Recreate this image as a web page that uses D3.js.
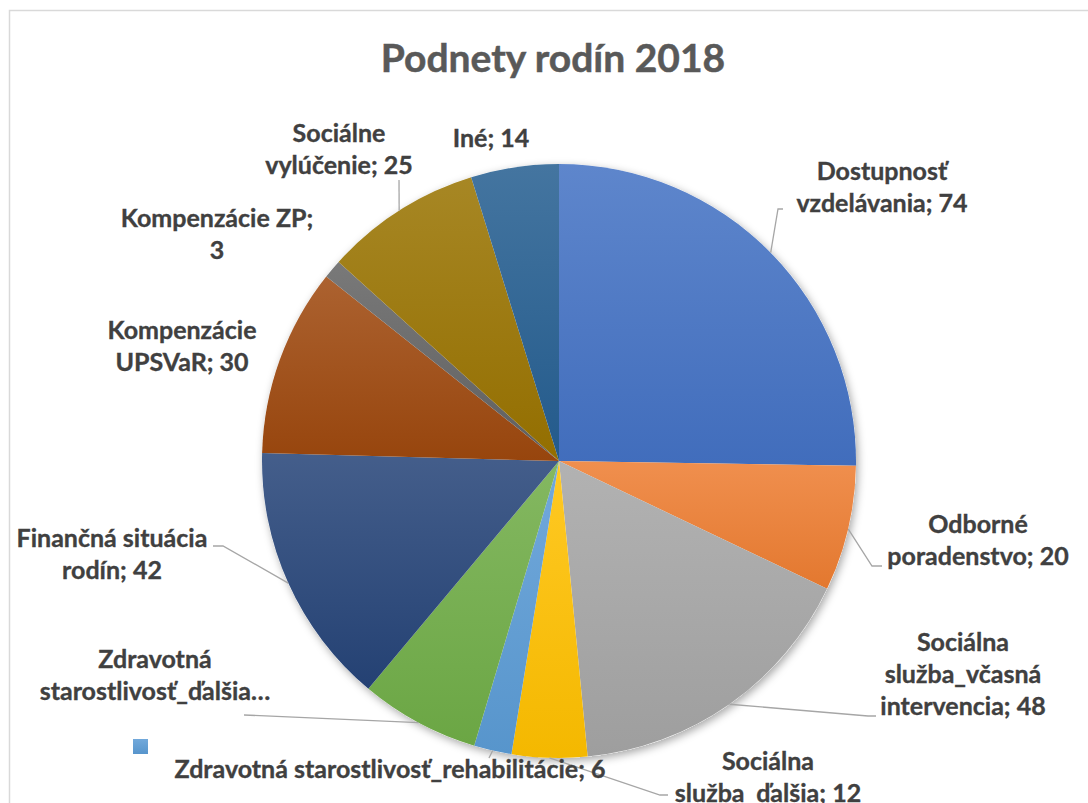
<!DOCTYPE html>
<html lang="sk">
<head>
<meta charset="utf-8">
<title>Podnety rodín 2018</title>
<script src="https://d3js.org/d3.v7.min.js"></script>
<style>
  body { margin: 0; background: #fff; }
  svg { display: block; }
  .title { font-family: 'Lato', sans-serif; font-weight: 700; fill: #595959; stroke: #595959; stroke-width: 0.5px; }
  .lbl { font-family: 'Lato', sans-serif; font-weight: 700; fill: #404040; stroke: #404040; stroke-width: 0.35px; }
</style>
</head>
<body>
<svg width="1088" height="803"></svg>
<script>

// data
var categories = [
  "Dostupnosť vzdelávania",
  "Odborné poradenstvo",
  "Sociálna služba_včasná intervencia",
  "Sociálna služba_ďalšia",
  "Zdravotná starostlivosť_rehabilitácie",
  "Zdravotná starostlivosť_ďalšia",
  "Finančná situácia rodín",
  "Kompenzácie UPSVaR",
  "Kompenzácie ZP",
  "Sociálne vylúčenie",
  "Iné"
];
var values = [74, 20, 48, 12, 6, 19, 42, 30, 3, 25, 14];

// label text as shown (line breaks as in the picture)
var labelLines = [
  ["Dostupnosť", "vzdelávania; 74"],
  ["Odborné", "poradenstvo; 20"],
  ["Sociálna", "služba_včasná", "intervencia; 48"],
  ["Sociálna", "služba_ďalšia; 12"],
  ["Zdravotná starostlivosť_rehabilitácie; 6"],
  ["Zdravotná", "starostlivosť_ďalšia…"],
  ["Finančná situácia", "rodín; 42"],
  ["Kompenzácie", "UPSVaR; 30"],
  ["Kompenzácie ZP;", "3"],
  ["Sociálne", "vylúčenie; 25"],
  ["Iné; 14"]
];

var colors = ["#4472C4", "#ED7D31", "#A5A5A5", "#FFC000", "#5B9BD5", "#70AD47",
              "#264478", "#9E480E", "#636363", "#997300", "#255E91"];

// label placement: text centre x, first baseline y, leader points (elbow, end)
var labelPos = [
  {x: 882, y: 180, leader: [[778, 209], [783, 209]]},
  {x: 978, y: 533, leader: [[872, 566], [882, 566]]},
  {x: 963, y: 651, leader: [[868, 716], [876, 716]]},
  {x: 768, y: 770, leader: [[660, 795], [668, 795]]},
  {x: 390, y: 778, leader: [[489, 758]]},
  {x: 155, y: 668, leader: [[244, 715]]},
  {x: 112, y: 547, leader: [[223, 546], [213, 546]]},
  {x: 182, y: 339, leader: null},
  {x: 217, y: 227, leader: null},
  {x: 339, y: 142, leader: [[399, 180]]},
  {x: 491, y: 147, leader: null}
];

var svg = d3.select("svg");
var width = +svg.attr("width"),
    height = +svg.attr("height");

var cx = 559, cy = 461, radius = 297;
var lineHeight = 32;

var defs = svg.append("defs");

var shadow = defs.append("filter")
    .attr("id", "pieShadow")
    .attr("x", "-10%").attr("y", "-10%")
    .attr("width", "120%").attr("height", "120%");
shadow.append("feDropShadow")
    .attr("dx", 2).attr("dy", 3)
    .attr("stdDeviation", 4)
    .attr("flood-color", "#000")
    .attr("flood-opacity", 0.35);

// one vertical gradient per slice, lighter at the top
colors.forEach(function(c, i) {
  var g = defs.append("linearGradient")
      .attr("id", "grad" + i)
      .attr("x1", 0).attr("y1", 0)
      .attr("x2", 0).attr("y2", 1);
  g.append("stop").attr("offset", "0%")
      .attr("stop-color", d3.interpolateRgb(c, "#ffffff")(0.14));
  g.append("stop").attr("offset", "100%")
      .attr("stop-color", d3.rgb(c).darker(0.12));
});

// chart area border
svg.append("rect")
    .attr("x", 9.5).attr("y", 10.5)
    .attr("width", width + 20).attr("height", height + 20)
    .attr("fill", "#fff")
    .attr("stroke", "#D9D9D9")
    .attr("stroke-width", 1.5);

svg.append("text")
    .attr("class", "title")
    .attr("x", 553)
    .attr("y", 72)
    .attr("text-anchor", "middle")
    .style("font-size", "39px")
    .text("Podnety rodín 2018");

var data = categories.map(function(c, i) { return {name: c, value: values[i], i: i}; });

var pie = d3.pie()
    .sort(null)
    .value(function(d) { return d.value; });

var arc = d3.arc()
    .innerRadius(0)
    .outerRadius(radius);

var arcs = pie(data);

var g = svg.append("g")
    .attr("transform", "translate(" + cx + "," + cy + ")");

g.append("circle")
    .attr("r", radius)
    .attr("fill", "#fff")
    .attr("filter", "url(#pieShadow)");

g.selectAll("path.slice")
    .data(arcs)
    .enter()
    .append("path")
    .attr("class", "slice")
    .attr("d", arc)
    .attr("fill", function(d) { return "url(#grad" + d.data.i + ")"; });

// leader lines, from the slice edge at mid angle to the label
var leaders = svg.append("g")
    .attr("fill", "none")
    .attr("stroke", "#A6A6A6")
    .attr("stroke-width", 1.3);

arcs.forEach(function(a, i) {
  var lp = labelPos[i];
  if (!lp.leader) return;
  var mid = (a.startAngle + a.endAngle) / 2;
  var start = [cx + radius * Math.sin(mid), cy - radius * Math.cos(mid)];
  leaders.append("path")
      .attr("d", d3.line()([start].concat(lp.leader)));
});

// labels
var labels = svg.selectAll("text.lbl")
    .data(arcs)
    .enter()
    .append("text")
    .attr("class", "lbl")
    .attr("text-anchor", "middle")
    .style("font-size", "25px");

labels.each(function(d, i) {
  var t = d3.select(this);
  labelLines[i].forEach(function(line, k) {
    t.append("tspan")
        .attr("x", labelPos[i].x)
        .attr("y", labelPos[i].y + k * lineHeight)
        .text(line);
  });
});

// stray legend key left by the original chart
svg.append("rect")
    .attr("x", 133).attr("y", 739)
    .attr("width", 15).attr("height", 15)
    .attr("fill", "url(#grad4)");

</script>
</body>
</html>
